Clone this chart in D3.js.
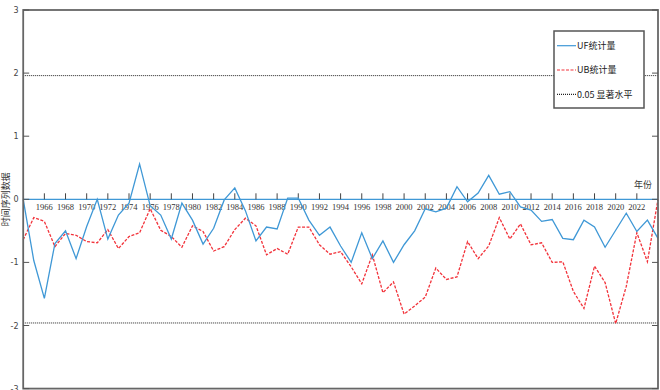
<!DOCTYPE html>
<html>
<head>
<meta charset="utf-8">
<script src="https://cdn.jsdelivr.net/npm/d3@7"></script>
<style>
  body { margin: 0; background: #fff; }
  svg { display: block; }
</style>
</head>
<body>
<svg id="chart" width="660" height="390"></svg>
<script>
// years 1964 - 2024
var years = d3.range(1964, 2025);
var ufValues = [0, -0.97, -1.57, -0.70, -0.50, -0.94, -0.43, 0.00, -0.63, -0.25,
  -0.06, 0.56, -0.10, -0.25, -0.63, -0.06, -0.33, -0.71, -0.46, -0.01,
  0.18, -0.18, -0.66, -0.44, -0.47, 0.02, 0.02, -0.33, -0.57, -0.44,
  -0.74, -1.00, -0.53, -0.94, -0.66, -1.00, -0.72, -0.50, -0.15, -0.20,
  -0.14, 0.20, -0.04, 0.10, 0.38, 0.08, 0.12, -0.12, -0.17, -0.35,
  -0.32, -0.62, -0.64, -0.33, -0.44, -0.76, -0.49, -0.22, -0.51, -0.33, -0.62];
var ubValues = [-0.64, -0.29, -0.35, -0.75, -0.54, -0.57, -0.67, -0.69, -0.48, -0.78,
  -0.59, -0.53, -0.15, -0.49, -0.59, -0.76, -0.42, -0.51, -0.82, -0.75,
  -0.48, -0.30, -0.42, -0.88, -0.78, -0.87, -0.44, -0.44, -0.72, -0.87,
  -0.83, -1.07, -1.34, -0.88, -1.48, -1.31, -1.82, -1.69, -1.55, -1.09,
  -1.27, -1.23, -0.67, -0.94, -0.74, -0.29, -0.63, -0.39, -0.72, -0.69,
  -1.00, -0.99, -1.46, -1.73, -1.06, -1.32, -1.97, -1.38, -0.53, -0.99, 0];
var critical = [1.96, -1.96];
var yTicks = [-3, -2, -1, 0, 1, 2, 3];
var xTicks = d3.range(1966, 2023, 2);
var legendLabels = ['UF统计量', 'UB统计量', '0.05 显著水平'];

var svg = d3.select('#chart');
var plotL = 23.2, plotR = 658, plotT = 10, plotB = 388.6;
var x = d3.scaleLinear().domain([1964, 2024]).range([plotL, plotR]);
var y = d3.scaleLinear().domain([-3, 3]).range([plotB, plotT]);

var ufColor = '#3f98d6', ubColor = '#f2323a';

// significance levels
svg.selectAll('.crit')
  .data(critical)
  .enter()
  .append('line')
  .attr('class', 'crit')
  .attr('x1', plotL).attr('x2', plotR)
  .attr('y1', function(d){ return y(d); })
  .attr('y2', function(d){ return y(d); })
  .attr('stroke', '#222')
  .attr('stroke-width', 1)
  .attr('stroke-dasharray', '1,1');

// zero line, used as x axis
svg.append('line')
  .attr('x1', plotL).attr('x2', plotR)
  .attr('y1', y(0)).attr('y2', y(0))
  .attr('stroke', ufColor)
  .attr('stroke-width', 1.3);

svg.selectAll('.xtick')
  .data(xTicks)
  .enter()
  .append('line')
  .attr('class', 'xtick')
  .attr('x1', function(d){ return x(d); })
  .attr('x2', function(d){ return x(d); })
  .attr('y1', y(0)).attr('y2', y(0) - 6)
  .attr('stroke', '#444')
  .attr('stroke-width', 1);

svg.selectAll('.xlabel')
  .data(xTicks)
  .enter()
  .append('text')
  .attr('class', 'xlabel')
  .attr('x', function(d){ return x(d); })
  .attr('y', y(0) + 11)
  .attr('text-anchor', 'middle')
  .attr('font-family', 'Liberation Serif, serif')
  .attr('font-size', '8.5px')
  .attr('fill', '#333')
  .text(function(d){ return d; });

var line = function(values){
  return d3.line()
    .x(function(d, i){ return x(years[i]); })
    .y(function(d){ return y(d); })(values);
};

svg.append('path')
  .attr('d', line(ubValues))
  .attr('fill', 'none')
  .attr('stroke', ubColor)
  .attr('stroke-width', 1.3)
  .attr('stroke-dasharray', '3,1.5');

svg.append('path')
  .attr('d', line(ufValues))
  .attr('fill', 'none')
  .attr('stroke', ufColor)
  .attr('stroke-width', 1.3);

// frame
svg.append('rect')
  .attr('x', plotL).attr('y', plotT)
  .attr('width', plotR - plotL).attr('height', plotB - plotT)
  .attr('fill', 'none')
  .attr('stroke', '#666')
  .attr('stroke-width', 1.8);

// y ticks both sides
svg.selectAll('.ytickL')
  .data(yTicks)
  .enter()
  .append('line')
  .attr('class', 'ytickL')
  .attr('x1', plotL).attr('x2', plotL + 6)
  .attr('y1', function(d){ return y(d); })
  .attr('y2', function(d){ return y(d); })
  .attr('stroke', '#555');
svg.selectAll('.ytickR')
  .data(yTicks)
  .enter()
  .append('line')
  .attr('class', 'ytickR')
  .attr('x1', plotR).attr('x2', plotR - 6)
  .attr('y1', function(d){ return y(d); })
  .attr('y2', function(d){ return y(d); })
  .attr('stroke', '#555');

svg.selectAll('.ylabel')
  .data(yTicks)
  .enter()
  .append('text')
  .attr('class', 'ylabel')
  .attr('x', 18.5)
  .attr('y', function(d){ return y(d) + 3; })
  .attr('text-anchor', 'end')
  .attr('font-family', 'DejaVu Sans, sans-serif')
  .attr('font-size', '8px')
  .attr('fill', '#444')
  .text(function(d){ return d; });

svg.append('text')
  .attr('transform', 'translate(9,' + (plotT + plotB) / 2 + ') rotate(-90)')
  .attr('text-anchor', 'middle')
  .attr('font-family', 'Noto Sans CJK SC, sans-serif')
  .attr('font-size', '9px')
  .attr('fill', '#333')
  .text('时间序列数据');

svg.append('text')
  .attr('x', 652).attr('y', y(0) - 11)
  .attr('text-anchor', 'end')
  .attr('font-family', 'Noto Sans CJK SC, sans-serif')
  .attr('font-size', '9px')
  .attr('fill', '#333')
  .text('年份');

// legend
var legend = svg.append('g').attr('transform', 'translate(554,31)');
legend.append('rect')
  .attr('width', 90).attr('height', 77)
  .attr('fill', '#fff')
  .attr('stroke', '#555')
  .attr('stroke-width', 1.5);
var legendStyles = [
  {color: ufColor, dash: null},
  {color: ubColor, dash: '3,1.5'},
  {color: '#222', dash: '1,1'}
];
var entry = legend.selectAll('.entry')
  .data(legendLabels)
  .enter()
  .append('g')
  .attr('class', 'entry')
  .attr('transform', function(d, i){ return 'translate(0,' + (14.7 + i * 24.3) + ')'; });
entry.append('line')
  .attr('x1', 3).attr('x2', 22)
  .attr('stroke', function(d, i){ return legendStyles[i].color; })
  .attr('stroke-dasharray', function(d, i){ return legendStyles[i].dash; })
  .attr('stroke-width', 1.2);
entry.append('text')
  .attr('x', 23).attr('y', 3.2)
  .attr('font-family', 'Noto Sans CJK SC, sans-serif')
  .attr('font-size', '9px')
  .attr('fill', '#222')
  .text(function(d){ return d; });
</script>
</body>
</html>
